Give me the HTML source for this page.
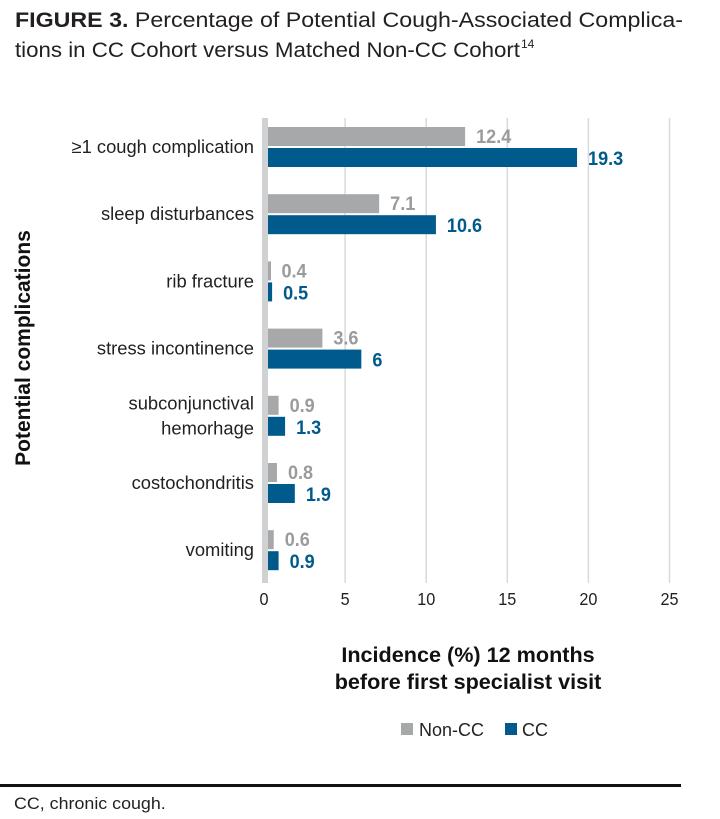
<!DOCTYPE html>
<html><head><meta charset="utf-8"><style>
html,body{margin:0;padding:0;background:#fff;}
svg{display:block;font-family:"Liberation Sans",sans-serif;}
</style></head><body>
<svg id="chart" width="720" height="819" viewBox="0 0 720 819">
  <g>
    <text x="15" y="27" font-size="21" fill="#231f20" textLength="668" lengthAdjust="spacingAndGlyphs"><tspan font-weight="bold">FIGURE 3.</tspan> Percentage of Potential Cough-Associated Complica-</text>
    <text x="15" y="57" font-size="21" fill="#231f20" textLength="505" lengthAdjust="spacingAndGlyphs">tions in CC Cohort versus Matched Non-CC Cohort</text>
    <text x="521" y="48" font-size="12" fill="#231f20">14</text>
  </g>
  <g id="grid"></g>
  <rect x="262" y="118" width="6" height="465" fill="#d0d1d3"/>
  <g id="bars"></g>
  <g id="labels"></g>
  <g id="ticks"></g>
  <text transform="translate(30,348) rotate(-90)" text-anchor="middle" font-size="21" font-weight="bold" fill="#111">Potential complications</text>
  <g>
    <text transform="translate(468,662) scale(1.03,1)" text-anchor="middle" font-size="21" font-weight="bold" fill="#111">Incidence (%) 12 months</text>
    <text transform="translate(468,689) scale(1.03,1)" text-anchor="middle" font-size="21" font-weight="bold" fill="#111">before first specialist visit</text>
  </g>
  <g>
    <g>
      <rect x="401" y="723" width="12" height="12" fill="#a7a8aa"/>
      <text x="419" y="736" font-size="18" fill="#231f20">Non-CC</text>
    </g>
    <g>
      <rect x="505" y="723" width="12" height="12" fill="#005a8c"/>
      <text x="522" y="736" font-size="18" fill="#231f20">CC</text>
    </g>
  </g>
  <rect x="0" y="784" width="681" height="3" fill="#111"/>
  <text transform="translate(14,809) scale(1.05,1)" font-size="17" fill="#231f20">CC, chronic cough.</text>
</svg>
<script>
const categories = [["≥1 cough complication"],["sleep disturbances"],["rib fracture"],["stress incontinence"],["subconjunctival","hemorhage"],["costochondritis"],["vomiting"]];
const nonCC = [12.4, 7.1, 0.4, 3.6, 0.9, 0.8, 0.6];
const cc = [19.3, 10.6, 0.5, 6, 1.3, 1.9, 0.9];
const nonCCLabels = ["12.4","7.1","0.4","3.6","0.9","0.8","0.6"];
const ccLabels = ["19.3","10.6","0.5","6","1.3","1.9","0.9"];
const ticks = [0, 5, 10, 15, 20, 25];

const NS = "http://www.w3.org/2000/svg";
const x0 = 264, pxPerUnit = 16.22, firstCenter = 147, step = 67.2;
const xs = v => x0 + v * pxPerUnit;
const yc = i => firstCenter + i * step;
function mk(tag, attrs, parent){const e=document.createElementNS(NS,tag);for(const k in attrs)e.setAttribute(k,attrs[k]);parent.appendChild(e);return e;}
const grid=document.getElementById('grid'), bars=document.getElementById('bars'), labels=document.getElementById('labels'), tk=document.getElementById('ticks');

ticks.forEach(t=>{
  if(t>0){
    const l=mk('line',{x1:xs(t),x2:xs(t),y1:118,y2:583,stroke:'#d9dadb','stroke-width':1.5},grid);
    
    
  }
  const tx=mk('text',{transform:`translate(${xs(t)},605) scale(0.9,1)`,'text-anchor':'middle','font-size':18,fill:'#231f20'},tk);
  tx.textContent=t;
  
  
});

categories.forEach((cat,i)=>{
  const c=yc(i);
  const g=mk('rect',{x:268,y:c-20,width:Math.max(xs(nonCC[i])-268,3),height:19,fill:'#a7a8aa'},bars);
  
  
  const b=mk('rect',{x:268,y:c+1,width:Math.max(xs(cc[i])-268,3),height:19,fill:'#005a8c'},bars);
  
  
  const gl=mk('text',{transform:`translate(${Math.max(xs(nonCC[i]),268)+11},${c-4}) scale(0.95,1)`,'font-size':19,'font-weight':'bold',fill:'#9a9b9d'},labels);
  gl.textContent=nonCCLabels[i];
  
  
  const bl=mk('text',{transform:`translate(${Math.max(xs(cc[i]),268)+11},${c+18}) scale(0.95,1)`,'font-size':19,'font-weight':'bold',fill:'#005a8c'},labels);
  bl.textContent=ccLabels[i];
  
  
  const n=cat.length;
  cat.forEach((line,j)=>{
    const y=c+6+(j-(n-1)/2)*25;
    const t=mk('text',{transform:`translate(254,${y}) scale(1.02,1)`,'text-anchor':'end','font-size':18,fill:'#231f20'},labels);
    t.textContent=line;
    
    
  });
});
</script>
</body></html>
